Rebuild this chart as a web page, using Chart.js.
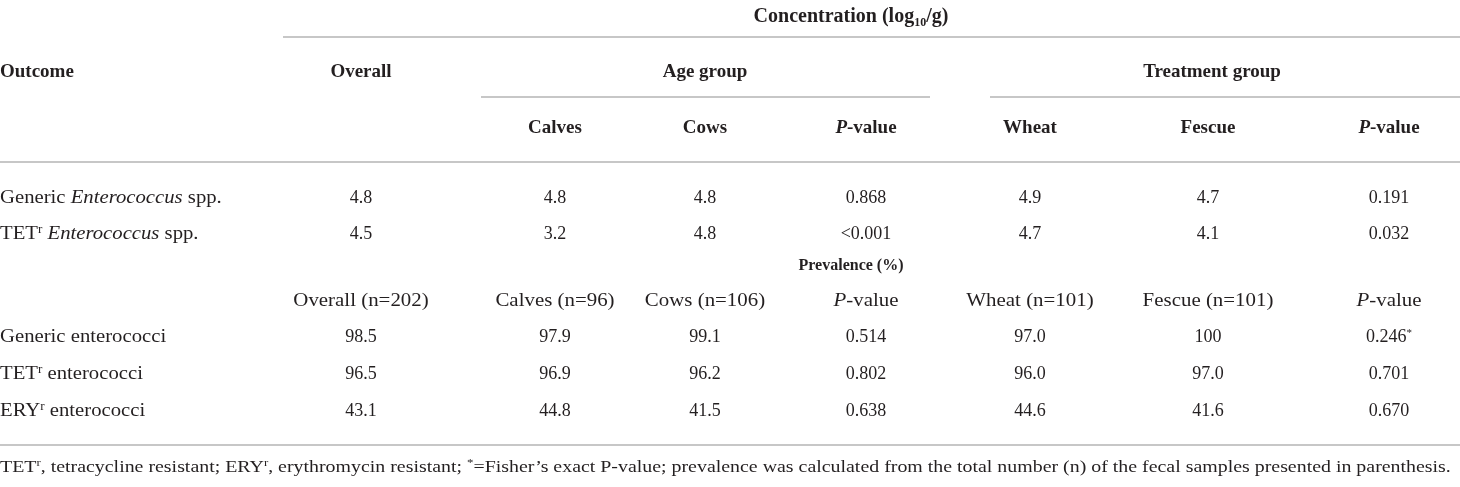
<!DOCTYPE html>
<html>
<head>
<meta charset="utf-8">
<script src="https://cdn.jsdelivr.net/npm/chart.js@4.4.1/dist/chart.umd.min.js"></script>
<style>
  html, body { margin: 0; padding: 0; background: #fff; }
  #wrap { width: 1460px; height: 487px; }
</style>
</head>
<body>
<div id="wrap"><canvas id="table"></canvas></div>
<script>
// markup: _italic_  ^superscript^  ~subscript~
const TITLE = "Concentration (log~10~/g)";
const PREV_TITLE = "Prevalence (%)";
const STUB_HEAD = "Outcome";
const GROUPS = ["Overall", "Age group", "Treatment group"];
const CONC_COLUMNS = ["Calves", "Cows", "_P_-value", "Wheat", "Fescue", "_P_-value"];

const CONC_OUTCOMES = ["Generic _Enterococcus_ spp.", "TET^r^ _Enterococcus_ spp."];
const CONC_OVERALL = ["4.8", "4.5"];
const CONC_CALVES = ["4.8", "3.2"];
const CONC_COWS = ["4.8", "4.8"];
const CONC_AGE_P = ["0.868", "<0.001"];
const CONC_WHEAT = ["4.9", "4.7"];
const CONC_FESCUE = ["4.7", "4.1"];
const CONC_TREAT_P = ["0.191", "0.032"];

const PREV_COLUMNS = ["Overall (n=202)", "Calves (n=96)", "Cows (n=106)", "_P_-value",
  "Wheat (n=101)", "Fescue (n=101)", "_P_-value"];
const PREV_OUTCOMES = ["Generic enterococci", "TET^r^ enterococci", "ERY^r^ enterococci"];
const PREV_OVERALL = ["98.5", "96.5", "43.1"];
const PREV_CALVES = ["97.9", "96.9", "44.8"];
const PREV_COWS = ["99.1", "96.2", "41.5"];
const PREV_AGE_P = ["0.514", "0.802", "0.638"];
const PREV_WHEAT = ["97.0", "96.0", "44.6"];
const PREV_FESCUE = ["100", "97.0", "41.6"];
const PREV_TREAT_P = ["0.246^*^", "0.701", "0.670"];

const FOOTNOTE = "TET^r^, tetracycline resistant; ERY^r^, erythromycin resistant; ^*^=Fisher\u2019s exact P-value; " +
  "prevalence was calculated from the total number (n) of the fecal samples presented in parenthesis.";

// layout (table units on the hidden scales)
const COL_X = [0, 361, 555, 705, 866, 1030, 1208, 1389];
const TITLE_X = 851;
const AGE_X = 705;
const TREAT_X = 1212;
const ROW = {
  title: 15, group: 71, sub: 127, conc: [197, 233],
  prevTitle: 265, prevHead: 300, prev: [336, 373, 410], foot: 466
};
const RULES = [
  [283, 1460, 37], [481, 930, 97], [990, 1460, 97], [0, 1460, 162], [0, 1460, 445]
];

const FAMILY = '"Liberation Serif", "Times New Roman", serif';
const INK = "#231f20";
const RULE_COLOR = "#b4b4b4";
const F_NUM = 18, F_LABEL = 19, F_HEAD = 19, F_TITLE = 20, F_PREV = 16, F_FOOT = 17;
const LABEL_STRETCH = 1.09, PREV_HEAD_STRETCH = 1.1, FOOT_STRETCH = 1.17;

const cells = [];
function cell(x, y, text, opts = {}) {
  cells.push({
    x, y, text,
    size: opts.size || F_NUM,
    bold: !!opts.bold,
    align: opts.align || "center",
    stretch: opts.stretch || 1
  });
}

cell(TITLE_X, ROW.title, TITLE, { bold: true, size: F_TITLE });
cell(COL_X[0], ROW.group, STUB_HEAD, { bold: true, size: F_HEAD, align: "left" });
cell(COL_X[1], ROW.group, GROUPS[0], { bold: true, size: F_HEAD });
cell(AGE_X, ROW.group, GROUPS[1], { bold: true, size: F_HEAD });
cell(TREAT_X, ROW.group, GROUPS[2], { bold: true, size: F_HEAD });
CONC_COLUMNS.forEach((t, i) => cell(COL_X[i + 2], ROW.sub, t, { bold: true, size: F_HEAD }));

const concCols = [CONC_OVERALL, CONC_CALVES, CONC_COWS, CONC_AGE_P, CONC_WHEAT, CONC_FESCUE, CONC_TREAT_P];
CONC_OUTCOMES.forEach((name, r) => {
  cell(COL_X[0], ROW.conc[r], name, { align: "left", size: F_LABEL, stretch: LABEL_STRETCH });
  concCols.forEach((col, c) => cell(COL_X[c + 1], ROW.conc[r], col[r]));
});

cell(TITLE_X, ROW.prevTitle, PREV_TITLE, { bold: true, size: F_PREV });
PREV_COLUMNS.forEach((t, i) =>
  cell(COL_X[i + 1], ROW.prevHead, t, { size: F_LABEL, stretch: PREV_HEAD_STRETCH }));
const prevCols = [PREV_OVERALL, PREV_CALVES, PREV_COWS, PREV_AGE_P, PREV_WHEAT, PREV_FESCUE, PREV_TREAT_P];
PREV_OUTCOMES.forEach((name, r) => {
  cell(COL_X[0], ROW.prev[r], name, { align: "left", size: F_LABEL, stretch: LABEL_STRETCH });
  prevCols.forEach((col, c) => cell(COL_X[c + 1], ROW.prev[r], col[r]));
});
cell(COL_X[0], ROW.foot, FOOTNOTE, { size: F_FOOT, align: "left", stretch: FOOT_STRETCH });

function parseRuns(text) {
  const runs = [];
  let st = { i: false, sup: false, sub: false }, buf = "";
  const flush = () => { if (buf) runs.push({ t: buf, ...st }); buf = ""; };
  for (const ch of text) {
    if (ch === "_") { flush(); st = { ...st, i: !st.i }; }
    else if (ch === "^") { flush(); st = { ...st, sup: !st.sup }; }
    else if (ch === "~") { flush(); st = { ...st, sub: !st.sub }; }
    else buf += ch;
  }
  flush();
  return runs;
}

function runFont(run, size, bold) {
  const s = run.sup || run.sub ? Math.round(size * 0.62) : size;
  return `${run.i ? "italic " : ""}${bold ? "bold " : ""}${s}px ${FAMILY}`;
}

const tableText = {
  id: "tableText",
  afterDatasetsDraw(chart) {
    const { ctx } = chart;
    const xs = chart.scales.x, ys = chart.scales.y;
    const data = chart.data.datasets[0].data;
    ctx.save();
    ctx.fillStyle = INK;
    ctx.textBaseline = "alphabetic";
    ctx.textAlign = "left";
    data.forEach((p) => {
      const runs = parseRuns(p.text);
      let w = 0;
      runs.forEach((r) => { ctx.font = runFont(r, p.size, p.bold); r.w = ctx.measureText(r.t).width; w += r.w; });
      let x0 = xs.getPixelForValue(p.x);
      if (p.align === "center") x0 -= (w * p.stretch) / 2;
      const base = ys.getPixelForValue(p.y) + p.size * 0.34;
      ctx.save();
      ctx.translate(x0, 0);
      ctx.scale(p.stretch, 1);
      let x = 0;
      runs.forEach((r) => {
        ctx.font = runFont(r, p.size, p.bold);
        const dy = r.sup ? -p.size * 0.36 : r.sub ? p.size * 0.2 : 0;
        ctx.fillText(r.t, x, base + dy);
        x += r.w;
      });
      ctx.restore();
    });
    ctx.restore();
  }
};

const ruleSets = RULES.map(([x0, x1, y]) => ({
  type: "scatter",
  data: [{ x: x0, y }, { x: x1, y }],
  showLine: true,
  borderColor: RULE_COLOR,
  borderWidth: 1.5,
  pointRadius: 0
}));

new Chart(document.getElementById("table"), {
  type: "scatter",
  data: {
    datasets: [
      { data: cells, pointRadius: 0, pointHoverRadius: 0 },
      ...ruleSets
    ]
  },
  options: {
    responsive: true,
    maintainAspectRatio: false,
    animation: false,
    layout: { padding: 0 },
    events: [],
    scales: {
      x: { type: "linear", min: 0, max: 1460, display: false },
      y: { type: "linear", min: 0, max: 487, reverse: true, display: false }
    },
    plugins: { legend: { display: false }, tooltip: { enabled: false } }
  },
  plugins: [tableText]
});
</script>
</body>
</html>
